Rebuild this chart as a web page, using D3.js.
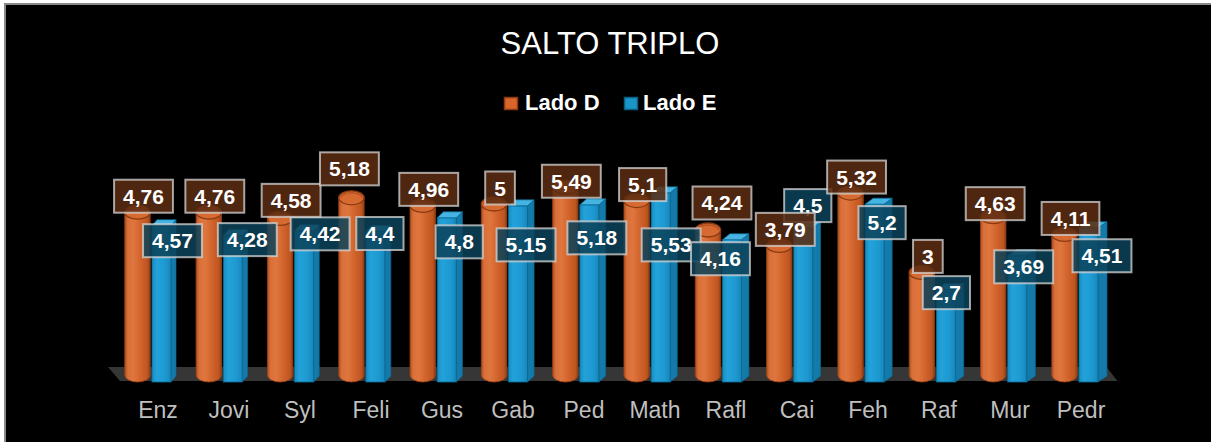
<!DOCTYPE html>
<html><head><meta charset="utf-8">
<script src="https://cdn.jsdelivr.net/npm/d3@7"></script>
<style>html,body{margin:0;padding:0;background:#fff;} svg{display:block;font-family:"Liberation Sans",Arial,sans-serif;}</style>
</head><body><svg id="c" width="1211" height="442"></svg>
<script>
// ---- data ----
const categories = ["Enz","Jovi","Syl","Feli","Gus","Gab","Ped","Math","Rafl","Cai","Feh","Raf","Mur","Pedr"];
const ladoD = [4.76,4.76,4.58,5.18,4.96,5,5.49,5.1,4.24,3.79,5.32,3,4.63,4.11];
const ladoE = [4.57,4.28,4.42,4.4,4.8,5.15,5.18,5.53,4.16,4.5,5.2,2.7,3.69,4.51];
const seriesNames = ["Lado D","Lado E"];
const chartTitle = "SALTO TRIPLO";
const valueDomain = [0, 6];

// ---- layout (label nudges, px) ----
const nudgeD = [[0,0],[0,0],[5,-2],[-8,-13],[0,0],[0,0],[0,10],[0,0],[8,-11],[0,0],[0,0],[0,0],[-4,3],[0,0]];
const nudgeE = [[7.5,15],[11,4],[12.5,3],[1,2],[9,24],[4.5,39],[4,33],[7,52],[-15,19],[1,-22.5],[4,18.5],[-3,3],[3,11],[10,28]];

const svg = d3.select("#c");
const fmt = v => String(v).replace(".", ",");

// background / frame
svg.append("rect").attr("x",5).attr("y",4).attr("width",1300).attr("height",500)
  .attr("fill","#000").attr("stroke","#8a8a8a").attr("stroke-width",2);

const defs = svg.append("defs");
const og = defs.append("linearGradient").attr("id","og").attr("x1",0).attr("x2",1).attr("y1",0).attr("y2",0);
[[0,"#b0501f"],[0.12,"#d9703a"],[0.35,"#df763e"],[0.65,"#d0622b"],[0.9,"#bd5520"],[1,"#8e3c12"]]
  .forEach(([o,c])=>og.append("stop").attr("offset",o).attr("stop-color",c));
const bg = defs.append("linearGradient").attr("id","bg").attr("x1",0).attr("x2",1).attr("y1",0).attr("y2",0);
[[0,"#178dc2"],[0.25,"#23a2da"],[0.7,"#1d99d0"],[1,"#1786bb"]]
  .forEach(([o,c])=>bg.append("stop").attr("offset",o).attr("stop-color",c));

// scales
const xLabel = d3.scalePoint().domain(categories).range([158, 1081]);
const xBar = d3.scalePoint().domain(categories).range([137.5, 1064.5]);
const baseY = 375;
const y = d3.scaleLinear().domain(valueDomain).range([baseY, baseY - 6*34.2]);

// floor
const fl = xBar.range()[0] - 29.5, fr = xBar.range()[1] + 42;
svg.append("path")
  .attr("d", `M${fl},${baseY-8}L${fr},${baseY-8}L${fr+11},${baseY+6}L${fl+12},${baseY+6}Z`)
  .attr("fill","#363636");

// title
svg.append("text").attr("x",610).attr("y",54).attr("text-anchor","middle")
  .attr("fill","#fff").attr("font-size",31).text(chartTitle);

// legend
const legend = [{x:504, tx:525, fill:"#d9652a", stroke:"#8a3a14"},{x:624, tx:643, fill:"#1a95c8", stroke:"#0d5f80"}];
legend.forEach((l,i)=>{
  svg.append("rect").attr("x",l.x+0.5).attr("y",97.5).attr("width",13).attr("height",12)
    .attr("fill",l.fill).attr("stroke",l.stroke).attr("stroke-width",1.5);
  svg.append("text").attr("x",l.tx).attr("y",110).attr("fill","#fff")
    .attr("font-size",22).attr("font-weight","bold").text(seriesNames[i]);
});

// axis labels
svg.append("g").selectAll("text").data(categories).join("text")
  .attr("x", d=>xLabel(d)).attr("y",418).attr("text-anchor","middle")
  .attr("fill","#bfbfbf").attr("font-size",23).text(d=>d);

const R = 12.7, RY = 7;
const bars = svg.append("g");
categories.forEach((c,i)=>{
  // Lado D cylinder
  const cx = xBar(c), yt = y(ladoD[i]);
  bars.append("path")
    .attr("d", `M${cx-R},${yt}L${cx-R},${baseY}A${R},${RY} 0 0 0 ${cx+R},${baseY}L${cx+R},${yt}Z`)
    .attr("fill","url(#og)").attr("stroke","#9a4316").attr("stroke-width",0.8);
  bars.append("ellipse").attr("cx",cx).attr("cy",yt).attr("rx",R).attr("ry",RY)
    .attr("fill","#d66a31").attr("stroke","#8a3a12").attr("stroke-width",1.3);
  bars.append("path")
    .attr("d", `M${cx-R+2},${yt}A${R-2},${RY-2} 0 0 1 ${cx+R-2},${yt}`)
    .attr("fill","none").attr("stroke","#a94a1a").attr("stroke-width",1.5).attr("opacity",0.7);

  // Lado E box
  const L = cx + 14.5, W = 19, s = 5 + 4*i/13, dy = 6;
  const yf = y(ladoE[i]) + RY, yb = baseY + RY;
  bars.append("path")
    .attr("d", `M${L+W},${yf}L${L+W+s},${yf-dy}L${L+W+s},${yb-dy}L${L+W},${yb}Z`)
    .attr("fill","#137aa9").attr("stroke","#0c6690").attr("stroke-width",0.7);
  bars.append("rect").attr("x",L).attr("y",yf).attr("width",W).attr("height",yb-yf)
    .attr("fill","url(#bg)").attr("stroke","#0c6a95").attr("stroke-width",0.8);
  bars.append("path")
    .attr("d", `M${L},${yf}L${L+W},${yf}L${L+W+s},${yf-dy}L${L+s},${yf-dy}Z`)
    .attr("fill","#45b4e2").attr("stroke","#0c6a95").attr("stroke-width",0.7);
});

// data labels
function label(g, cxv, cyv, txt, fill){
  const grp = g.append("g");
  const t = grp.append("text").attr("x",cxv).attr("y",cyv+7.5).attr("text-anchor","middle")
    .attr("fill","#fff").attr("font-size",21).attr("font-weight","bold").text(txt);
  const w = t.node().getComputedTextLength() + 18;
  grp.insert("rect","text").attr("x",cxv-w/2).attr("y",cyv-16.5).attr("width",w).attr("height",33)
    .attr("fill",fill).attr("stroke","rgba(215,215,215,0.75)").attr("stroke-width",2);
}
const labE = svg.append("g"), labD = svg.append("g");
categories.forEach((c,i)=>{
  const cx = xBar(c);
  label(labE, cx + 27.5 + nudgeE[i][0], y(ladoE[i]) + RY + nudgeE[i][1], fmt(ladoE[i]), "rgba(12,66,90,0.86)");
});
categories.forEach((c,i)=>{
  const cx = xBar(c);
  label(labD, cx + 6 + nudgeD[i][0], y(ladoD[i]) - 16 + nudgeD[i][1], fmt(ladoD[i]), "rgba(92,44,18,0.86)");
});
</script></body></html>
